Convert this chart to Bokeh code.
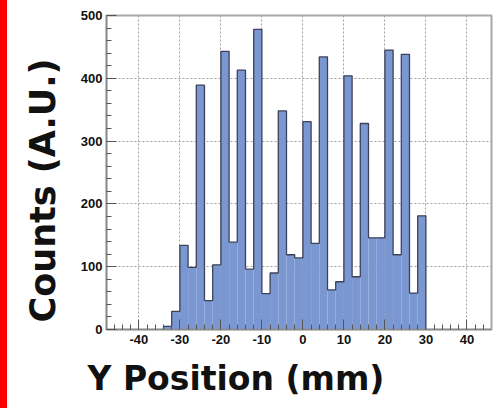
from bokeh.plotting import figure
from bokeh.models import Title, FixedTicker, ColumnDataSource
from bokeh.embed import file_html
from bokeh.resources import INLINE

# Histogram: 2 mm bins from -34 mm to 30 mm
bin_edges = [-34, -32, -30, -28, -26, -24, -22, -20, -18, -16, -14, -12, -10,
             -8, -6, -4, -2, 0, 2, 4, 6, 8, 10, 12, 14, 16, 18, 20, 22, 24,
             26, 28, 30]
counts = [5, 29, 134, 99, 389, 46, 103, 443, 139, 413, 96, 478, 57, 90,
          348, 119, 114, 331, 137, 434, 63, 76, 404, 84, 328, 146, 146,
          445, 119, 438, 58, 181]

x_ticks = [-40, -30, -20, -10, 0, 10, 20, 30, 40]
y_ticks = [0, 100, 200, 300, 400, 500]

p = figure(width=498, height=408, x_range=(-47.9, 46.0), y_range=(0, 500),
           output_backend="svg", toolbar_location=None,
           min_border_left=106, min_border_right=7,
           min_border_top=15, min_border_bottom=79)
p.background_fill_color = "white"
# transparent border so the host element's red side stripe shows through
p.border_fill_color = None
p.outline_line_color = "#a8a8a8"
p.outline_line_width = 2
p.styles = {"background": "linear-gradient(to right, #ff0000 7px, #ffffff 7px)"}

src = ColumnDataSource(dict(left=bin_edges[:-1], right=bin_edges[1:], top=counts))
p.quad(left="left", right="right", top="top", bottom=0, source=src,
       fill_color="#7a97d1", line_color=None)

# outer step contour of the histogram
sx, sy = [bin_edges[0]], [0]
for i, c in enumerate(counts):
    sx += [bin_edges[i], bin_edges[i + 1]]
    sy += [c, c]
sx.append(bin_edges[-1])
sy.append(0)
p.line(sx, sy, line_color="#3c4257", line_width=1.3)

# axes styling
for ax in (p.xaxis[0], p.yaxis[0]):
    ax.axis_line_color = "#8a8a8a"
    ax.axis_line_width = 1.5
    ax.major_tick_line_color = "#555555"
    ax.minor_tick_line_color = "#555555"
    ax.major_tick_out = 0
    ax.minor_tick_out = 0
    ax.major_label_text_font = "Liberation Sans"
    ax.major_label_text_font_style = "bold"
    ax.major_label_text_font_size = "13px"
    ax.major_label_text_color = "#111111"

p.xaxis.ticker = FixedTicker(ticks=x_ticks,
                             minor_ticks=list(range(-46, 46, 2)))
p.yaxis.ticker = FixedTicker(ticks=y_ticks,
                             minor_ticks=list(range(0, 501, 20)))
p.xaxis.major_label_overrides = {t: str(t) for t in x_ticks}
p.xaxis.major_tick_in = 10
p.xaxis.minor_tick_in = 5
p.yaxis.major_tick_in = 10
p.yaxis.minor_tick_in = 5
p.xaxis.major_label_standoff = 5
p.yaxis.major_label_standoff = 4

p.xgrid.ticker = FixedTicker(ticks=x_ticks)
p.ygrid.ticker = FixedTicker(ticks=y_ticks)
for g in (p.xgrid[0], p.ygrid[0]):
    g.grid_line_color = "#a0a0a0"
    g.grid_line_dash = "2 2"
    g.grid_line_width = 1

# axis titles
p.add_layout(Title(text="Counts (A.U.)", align="left", offset=7,
                   standoff=30,
                   text_font="DejaVu Sans", text_font_style="bold",
                   text_font_size="35px", text_color="#111111"), "left")
p.add_layout(Title(text="Y Position (mm)", align="left", offset=-19,
                   standoff=21,
                   text_font="DejaVu Sans", text_font_style="bold",
                   text_font_size="33px", text_color="#111111"), "below")

open("out.html", "w").write(file_html(p, INLINE))
